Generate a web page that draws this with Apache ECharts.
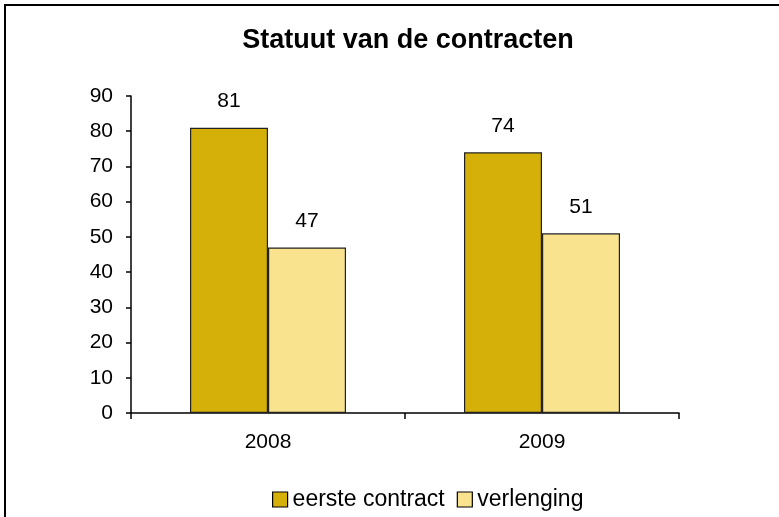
<!DOCTYPE html>
<html>
<head>
<meta charset="utf-8">
<script src="https://cdn.jsdelivr.net/npm/echarts@6/dist/echarts.min.js"></script>
<style>
  html, body { margin: 0; padding: 0; background: #fff; }
  #main { width: 779px; height: 517px; }
</style>
</head>
<body>
<div id="main"></div>
<script>
// data
var years = ['2008', '2009']
var eersteContract = [81, 74]
var verlenging = [47, 51]
var yTicks = { min: 0, max: 90, step: 10 }

var chart = echarts.init(document.getElementById('main'))

var font = 'Liberation Sans, Arial, sans-serif'

var option = {
  backgroundColor: '#fff',
  animation: false,
  // outer frame, right and bottom edges run off the page
  graphic: [{
    type: 'rect',
    shape: { x: 5, y: 5, width: 800, height: 540 },
    style: { fill: 'none', stroke: '#000', lineWidth: 2 },
    silent: true
  }],
  title: {
    text: 'Statuut van de contracten',
    left: 403,
    textAlign: 'center',
    top: 22,
    textStyle: { fontFamily: font, fontWeight: 'bold', fontSize: 27, color: '#000' }
  },
  legend: {
    top: 483,
    left: 267,
    itemWidth: 15,
    itemHeight: 15,
    itemGap: 12,
    icon: 'rect',
    itemStyle: { borderColor: '#000', borderWidth: 1.2 },
    textStyle: { fontFamily: font, fontSize: 23, color: '#000' },
    data: ['eerste contract', 'verlenging']
  },
  grid: { left: 131, right: 100, top: 96, bottom: 104, containLabel: false },
  xAxis: {
    type: 'category',
    data: years,
    axisLine: { lineStyle: { color: '#000', width: 1.5 } },
    axisTick: { show: true, length: 6, lineStyle: { color: '#000', width: 1.5 } },
    axisLabel: { fontFamily: font, fontSize: 21, color: '#000', margin: 19 }
  },
  yAxis: {
    type: 'value',
    min: yTicks.min,
    max: yTicks.max,
    interval: yTicks.step,
    splitLine: { show: false },
    axisLine: { show: true, lineStyle: { color: '#000', width: 1.5 } },
    axisTick: { show: true, length: 5, lineStyle: { color: '#000', width: 1.5 } },
    axisLabel: { fontFamily: font, fontSize: 21, color: '#000', margin: 18 }
  },
  series: [{
    name: 'eerste contract',
    type: 'bar',
    data: eersteContract,
    barWidth: 78,
    barGap: '0%',
    itemStyle: { color: '#D5B009', borderColor: '#222', borderWidth: 1.2 },
    label: { show: true, position: 'top', distance: 16, fontFamily: font, fontSize: 21, color: '#000' }
  }, {
    name: 'verlenging',
    type: 'bar',
    data: verlenging,
    barWidth: 78,
    barGap: '0%',
    itemStyle: { color: '#F9E38F', borderColor: '#222', borderWidth: 1.2 },
    label: { show: true, position: 'top', distance: 16, fontFamily: font, fontSize: 21, color: '#000' }
  }]
}

chart.setOption(option)
</script>
</body>
</html>
